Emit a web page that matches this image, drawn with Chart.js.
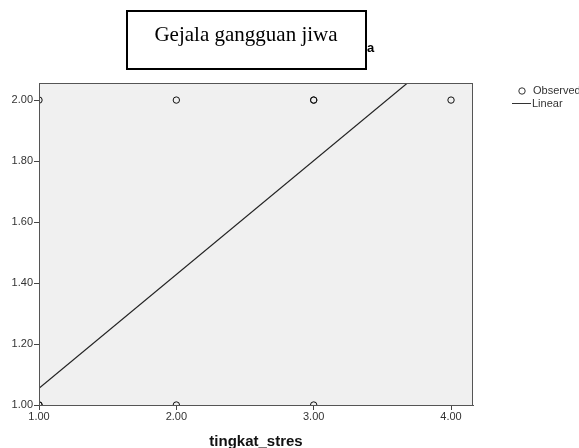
<!DOCTYPE html>
<html>
<head>
<meta charset="utf-8">
<script src="https://cdn.jsdelivr.net/npm/chart.js@4"></script>
<style>
  html, body { margin: 0; padding: 0; background: #fff; overflow: hidden; }
  canvas { display: block; }
</style>
</head>
<body>
<canvas id="chart" width="579" height="448"></canvas>
<script>
// observed points (tingkat_stres vs gejala gangguan jiwa)
const obsX = [1, 2, 3, 3, 4, 1, 1, 2, 3];
const obsY = [2, 2, 2, 2, 2, 1, 1, 1, 1];

// linear fit line
const fitX = [1.0, 4.16];
const fitY = [1.055, 2.234];

const xTicks = [1, 2, 3, 4];
const yTicks = [1.0, 1.2, 1.4, 1.6, 1.8, 2.0];

const titleText = 'Gejala gangguan jiwa';
const xTitle = 'tingkat_stres';

const sans = '"Liberation Sans", Arial, sans-serif';

// gray plot background + full border
const plotFrame = {
    id: 'plotFrame',
    beforeDatasetsDraw(chart) {
        const { ctx, chartArea: a } = chart;
        ctx.save();
        ctx.fillStyle = '#f0f0f0';
        ctx.fillRect(a.left, a.top, a.right - a.left, a.bottom - a.top);
        ctx.restore();
    },
    afterDatasetsDraw(chart) {
        const { ctx, chartArea: a } = chart;
        ctx.save();
        ctx.strokeStyle = '#555';
        ctx.lineWidth = 1;
        ctx.strokeRect(a.left + 0.5, a.top + 0.5, a.right - a.left - 1, a.bottom - a.top);
        ctx.restore();
    }
};

// boxed title and side legend
const decorations = {
    id: 'decorations',
    afterDraw(chart) {
        const ctx = chart.ctx;
        ctx.save();
        // leftover "a" behind the box
        ctx.fillStyle = '#000';
        ctx.font = 'bold 13px ' + sans;
        ctx.textBaseline = 'alphabetic';
        ctx.textAlign = 'left';
        ctx.fillText('a', 367, 52);

        ctx.fillStyle = '#fff';
        ctx.fillRect(127, 11, 239, 58);
        ctx.strokeStyle = '#000';
        ctx.lineWidth = 2;
        ctx.strokeRect(127, 11, 239, 58);
        ctx.fillStyle = '#000';
        ctx.font = '21px "Liberation Serif", "Times New Roman", serif';
        ctx.textAlign = 'center';
        ctx.fillText(titleText, 246, 41);

        // legend
        const ds = chart.data.datasets;
        ctx.font = '11px ' + sans;
        ctx.textAlign = 'left';
        ctx.textBaseline = 'middle';
        ctx.fillStyle = '#333';
        ctx.strokeStyle = '#333';
        ctx.lineWidth = 1;
        ctx.beginPath();
        ctx.arc(522, 91, 3.2, 0, Math.PI * 2);
        ctx.stroke();
        ctx.fillText(ds[0].label, 533, 91);
        ctx.beginPath();
        ctx.moveTo(512, 103.5);
        ctx.lineTo(531, 103.5);
        ctx.stroke();
        ctx.fillText(ds[1].label, 532, 104);
        ctx.restore();
    }
};

new Chart(document.getElementById('chart'), {
    type: 'scatter',
    data: {
        datasets: [{
            label: 'Observed',
            data: obsX.map((x, i) => ({ x: x, y: obsY[i] })),
            pointStyle: 'circle',
            pointRadius: 3.2,
            pointBorderWidth: 1,
            pointBorderColor: '#111',
            pointBackgroundColor: 'rgba(0,0,0,0)'
        }, {
            label: 'Linear',
            type: 'line',
            data: fitX.map((x, i) => ({ x: x, y: fitY[i] })),
            borderColor: '#222',
            borderWidth: 1.2,
            pointRadius: 0,
            fill: false
        }]
    },
    options: {
        responsive: false,
        animation: false,
        devicePixelRatio: 1,
        layout: { padding: { top: 83, right: 106, left: 0, bottom: 0 } },
        plugins: {
            legend: { display: false },
            title: { display: false },
            tooltip: { enabled: false }
        },
        scales: {
            x: {
                type: 'linear',
                min: 1,
                max: 4.16,
                afterBuildTicks: s => { s.ticks = xTicks.map(v => ({ value: v })); },
                afterFit: s => { s.height = 43; },
                grid: { drawOnChartArea: false, drawTicks: true, tickLength: 5, color: '#444' },
                border: { display: true, color: '#555' },
                ticks: {
                    padding: 0,
                    color: '#333',
                    font: { family: sans, size: 11 },
                    callback: v => v.toFixed(2),
                    maxRotation: 0
                },
                title: {
                    display: true,
                    text: xTitle,
                    color: '#111',
                    font: { family: sans, size: 15, weight: 'bold' },
                    padding: { top: 0, bottom: -3 }
                }
            },
            y: {
                type: 'linear',
                min: 1,
                max: 2.056,
                afterBuildTicks: s => { s.ticks = yTicks.map(v => ({ value: v })); },
                afterFit: s => { s.width = 39; },
                grid: { drawOnChartArea: false, drawTicks: true, tickLength: 5, color: '#444' },
                border: { display: true, color: '#555' },
                ticks: {
                    padding: 1,
                    color: '#333',
                    font: { family: sans, size: 11 },
                    callback: v => v.toFixed(2)
                }
            }
        }
    },
    plugins: [plotFrame, decorations]
});
</script>
</body>
</html>
